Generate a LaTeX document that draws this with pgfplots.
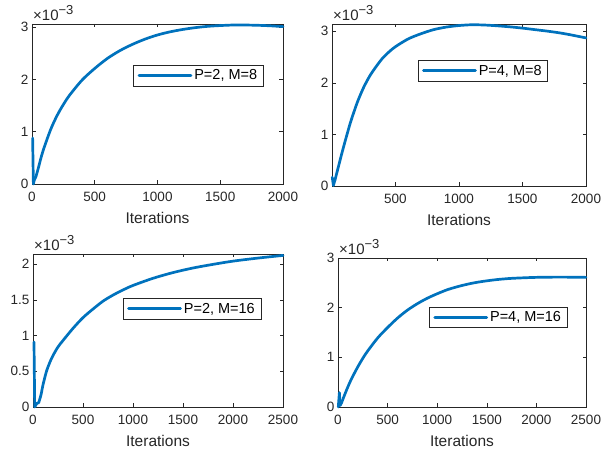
\documentclass[border=0pt]{standalone}
\usepackage{pgfplots}
\pgfplotsset{compat=1.18}
\usepackage{fontspec}
\setmainfont{Liberation Sans}
\definecolor{mblue}{RGB}{0,114,189}
\definecolor{axgray}{RGB}{38,38,38}
\pgfplotsset{
  mstyle/.style={
    scale only axis,
    anchor=south west,
    clip=false,
    axis line style={axgray, line width=0.5pt},
    tick style={axgray, line width=0.5pt},
    tick align=inside,
    major tick length=3.5pt,
    ticklabel style={font=\fontsize{13.5}{14}\selectfont, text=axgray},
    xticklabel style={yshift=-5pt},
    /pgf/number format/assume math mode=true,
    /pgf/number format/1000 sep={},
    xlabel={Iterations},
    xlabel style={font=\fontsize{15.5}{16}\selectfont, text=axgray, yshift=-3pt},
    ymin=0,
    legend cell align=left,
    legend style={draw=axgray, line width=0.5pt, font=\fontsize{14.5}{15}\selectfont, text=black, anchor=center, inner xsep=4pt, inner ysep=2.5pt},
    legend image code/.code={\draw[#1] (0pt,0pt) -- (52pt,0pt);},
  },
  lstyle/.style={mblue, line width=2.7pt, no markers, line join=round, line cap=round},
  cstyle/.style={lstyle, smooth, tension=0.5},
}
\newcommand{\scalelab}[1]{\node[anchor=south west, inner sep=0pt, text=axgray, font=\fontsize{15}{16}\selectfont] at ([xshift=1pt,yshift=3pt]#1.north west) {×10\raisebox{0.75ex}{\fontsize{13}{13}\selectfont −3}};}
\begin{document}
\begin{tikzpicture}
\useasboundingbox (0,0) rectangle (603pt,454pt);
% Top left
\begin{axis}[mstyle, name=tl, at={(32pt,270pt)}, width=251pt, height=160pt,
  xmin=0, xmax=2000, ymax=3.06, xtick={0,500,1000,1500,2000}, ytick={0,1,2,3},
  legend style={at={(0.663,0.677)}}]
\addplot[lstyle, forget plot] coordinates {(5,0.88) (11,0.0) (19,0.08) (30,0.13)};
\addplot[cstyle] coordinates {(30,0.13) (50,0.30) (75,0.53) (100,0.72) (150,1.05) (200,1.31) (250,1.52) (300,1.70) (400,1.99) (500,2.21) (600,2.40) (700,2.55) (800,2.67) (900,2.77) (1000,2.85) (1100,2.91) (1200,2.955) (1300,2.99) (1400,3.015) (1500,3.03) (1600,3.04) (1700,3.04) (1800,3.035) (1900,3.025) (2000,3.01)};
\addlegendentry{P=2, M=8}
\end{axis}
\scalelab{tl}
% Top right
\begin{axis}[mstyle, name=tr, at={(332pt,268pt)}, width=254pt, height=162pt,
  xmin=1, xmax=2000, ymax=3.14, xtick={500,1000,1500,2000}, ytick={0,1,2,3},
  legend style={at={(0.594,0.711)}}]
\addplot[lstyle, forget plot] coordinates {(3,0.17) (12,0.01) (25,0.12)};
\addplot[cstyle] coordinates {(25,0.12) (50,0.36) (75,0.60) (100,0.83) (125,1.05) (150,1.26) (200,1.62) (250,1.91) (300,2.14) (350,2.32) (400,2.48) (450,2.60) (500,2.70) (600,2.85) (700,2.95) (800,3.03) (900,3.08) (1000,3.11) (1100,3.125) (1200,3.12) (1300,3.105) (1400,3.085) (1500,3.06) (1600,3.03) (1700,3.0) (1800,2.965) (1900,2.92) (2000,2.87)};
\addlegendentry{P=4, M=8}
\end{axis}
\scalelab{tr}
% Bottom left
\begin{axis}[mstyle, name=bl, at={(33pt,47pt)}, width=250pt, height=153pt,
  xmin=0, xmax=2500, ymax=2.14, xtick={0,500,1000,1500,2000,2500}, ytick={0,0.5,1,1.5,2},
  legend style={at={(0.636,0.642)}}]
\addplot[lstyle, forget plot] coordinates {(10,0.91) (17,0.0) (38,0.05) (57,0.06)};
\addplot[cstyle] coordinates {(57,0.06) (80,0.17) (100,0.31) (135,0.50) (170,0.63) (200,0.72) (250,0.84) (300,0.93) (400,1.10) (500,1.25) (600,1.37) (700,1.48) (800,1.565) (900,1.637) (1000,1.70) (1200,1.80) (1400,1.88) (1600,1.944) (1800,1.995) (2000,2.04) (2250,2.083) (2500,2.12)};
\addlegendentry{P=2, M=16}
\end{axis}
\scalelab{bl}
% Bottom right
\begin{axis}[mstyle, name=br, at={(338pt,47pt)}, width=248pt, height=149pt,
  xmin=0, xmax=2500, ymax=3, xtick={0,500,1000,1500,2000,2500}, ytick={0,1,2,3},
  legend style={at={(0.646,0.602)}}]
\addplot[lstyle, forget plot] coordinates {(3,0.0) (14,0.29) (22,0.03) (35,0.08)};
\addplot[cstyle] coordinates {(35,0.08) (60,0.21) (90,0.36) (125,0.52) (160,0.66) (200,0.81) (250,0.98) (300,1.13) (400,1.39) (500,1.60) (600,1.79) (700,1.95) (800,2.08) (900,2.19) (1000,2.28) (1100,2.36) (1200,2.42) (1300,2.47) (1400,2.51) (1500,2.54) (1600,2.565) (1750,2.59) (2000,2.61) (2250,2.615) (2500,2.61)};
\addlegendentry{P=4, M=16}
\end{axis}
\scalelab{br}
\end{tikzpicture}
\end{document}
